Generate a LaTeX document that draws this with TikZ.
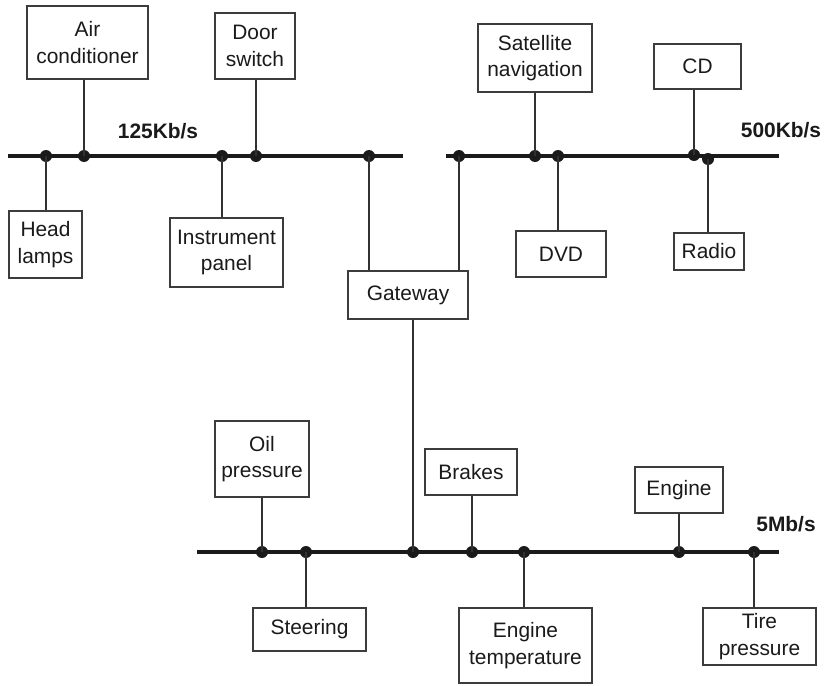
\documentclass[tikz,border=0pt]{standalone}
\usepackage{fontspec}
\setmainfont{Liberation Sans}
\usetikzlibrary{positioning,calc}
\usepackage{xcolor}
\definecolor{ink}{HTML}{1A1A1A}
\tikzset{
  every node/.style={font=\fontsize{20.9}{26.7}\selectfont,text=ink},
  box/.style={draw=ink!85,line width=1.4pt,fill=white,align=center,inner sep=0pt},
  bus/.style={draw=ink,line width=4.3pt},
  link/.style={draw=ink!90,line width=1.4pt},
  tap/.style={circle,fill=ink,inner sep=0pt,minimum size=12pt},
  rate/.style={font=\fontsize{20.9}{25}\selectfont\bfseries},
}

\begin{document}
\begin{tikzpicture}[x=1pt,y=-1pt]
\useasboundingbox (0,0) rectangle (824,685);

% 125Kb/s bus
\coordinate (ka) at (8,156);
\coordinate (kb) at (403,156);
\draw[bus] (ka) -- (kb);
\node[rate] (krate) at (158,131) {125Kb/s};

\node[box,minimum width=121pt,minimum height=73pt] (air) at (87.5,42.5) {Air\\conditioner};
\node[box,minimum width=80pt,minimum height=66pt] (door) at (255,46) {Door\\switch};
\node[box,minimum width=73pt,minimum height=67pt] (head) at (45.5,244.5) {Head\\lamps};
\node[box,minimum width=113pt,minimum height=69pt] (instr) at (226.5,252.5) {Instrument\\panel};

\node[tap] (k1) at (46,156) {};
\node[tap] (k2) at (84,156) {};
\node[tap] (k3) at (222,156) {};
\node[tap] (k4) at (256,156) {};
\node[tap] (k5) at (369,156) {};
\draw[link] (k1.center) -- (k1 |- head.north);
\draw[link] (k2.center) -- (k2 |- air.south);
\draw[link] (k3.center) -- (k3 |- instr.north);
\draw[link] (k4.center) -- (k4 |- door.south);

% 500Kb/s bus
\coordinate (ma) at (446,156);
\coordinate (mb) at (779,156);
\draw[bus] (ma) -- (mb);
\node[rate] (mrate) at (781,130) {500Kb/s};

\node[box,minimum width=114pt,minimum height=68pt] (sat) at (535,58) {Satellite\\navigation};
\node[box,minimum width=87pt,minimum height=45pt] (cd) at (697.5,66.5) {CD};
\node[box,minimum width=90pt,minimum height=46pt] (dvd) at (561,254) {DVD};
\node[box,minimum width=70pt,minimum height=37pt] (radio) at (709,251.5) {Radio};

\node[tap] (m1) at (459,156) {};
\node[tap] (m2) at (535,156) {};
\node[tap] (m3) at (558,156) {};
\node[tap] (m4) at (694,155) {};
\node[tap] (m5) at (708,159) {};
\draw[link] (m2.center) -- (m2 |- sat.south);
\draw[link] (m3.center) -- (m3 |- dvd.north);
\draw[link] (m4.center) -- (m4 |- cd.south);
\draw[link] (m5.center) -- (m5 |- radio.north);

% Gateway
\node[box,minimum width=120pt,minimum height=48pt] (gate) at (408,295) {Gateway};
\draw[link] (k5.center) -- (k5 |- gate.north);
\draw[link] (m1.center) -- (m1 |- gate.north);

% 5Mb/s bus
\coordinate (sa) at (197,552);
\coordinate (sb) at (779,552);
\draw[bus] (sa) -- (sb);
\node[rate] (srate) at (786,524) {5Mb/s};

\node[box,minimum width=94pt,minimum height=76pt] (oil) at (262,459) {Oil\\pressure};
\node[box,minimum width=113pt,minimum height=43pt] (steer) at (309.5,629.5) {Steering};
\node[box,minimum width=92pt,minimum height=46pt] (brake) at (471,472) {Brakes};
\node[box,minimum width=133pt,minimum height=75pt] (etemp) at (525.5,645.5) {Engine\\temperature};
\node[box,minimum width=88pt,minimum height=46pt] (engine) at (679,490) {Engine};
\node[box,minimum width=113pt,minimum height=57pt] (tire) at (759.5,636.5) {Tire\\pressure};

\node[tap] (s1) at (262,552) {};
\node[tap] (s2) at (306,552) {};
\node[tap] (s3) at (413,552) {};
\node[tap] (s4) at (472,552) {};
\node[tap] (s5) at (524,552) {};
\node[tap] (s6) at (679,552) {};
\node[tap] (s7) at (754,552) {};
\draw[link] (s1.center) -- (s1 |- oil.south);
\draw[link] (s2.center) -- (s2 |- steer.north);
\draw[link] (s3.center) -- (s3 |- gate.south);
\draw[link] (s4.center) -- (s4 |- brake.south);
\draw[link] (s5.center) -- (s5 |- etemp.north);
\draw[link] (s6.center) -- (s6 |- engine.south);
\draw[link] (s7.center) -- (s7 |- tire.north);

\end{tikzpicture}
\end{document}
